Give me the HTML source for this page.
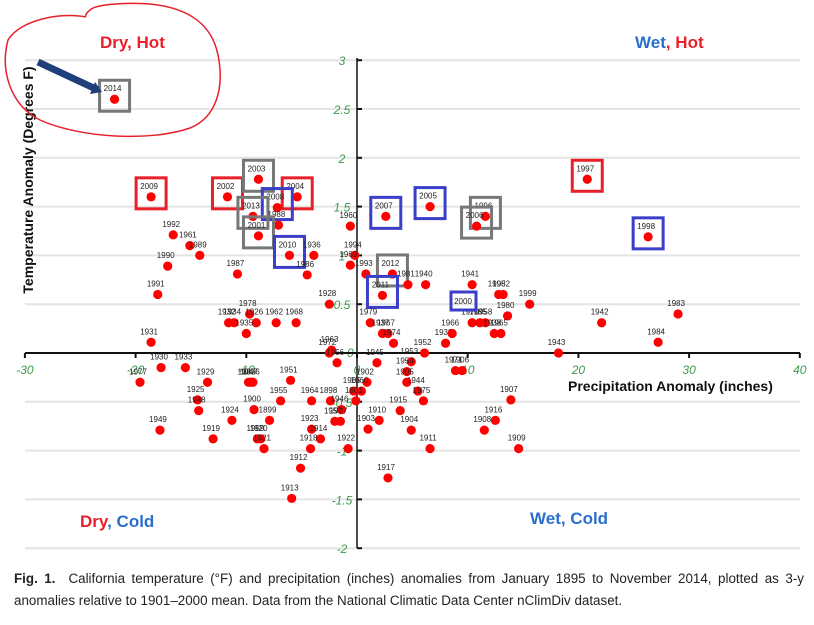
<!DOCTYPE html>
<html><head><meta charset="utf-8"><style>
body{margin:0;background:#fff;width:814px;height:625px;overflow:hidden;font-family:"Liberation Sans",sans-serif}
.cap{position:absolute;left:14px;width:790px;font-size:13.4px;line-height:22px;color:#222;text-align:justify}
</style></head><body>
<svg id="chart" width="814" height="570" style="position:absolute;left:0;top:0" font-family="Liberation Sans, sans-serif"></svg>
<div class="cap" style="top:568px"><b>Fig. 1.</b>&nbsp; California temperature (°F) and precipitation (inches) anomalies from January 1895 to November 2014, plotted as 3-y anomalies relative to 1901–2000 mean. Data from the National Climatic Data Center nClimDiv dataset.</div>
<script>
const years=[2014,2009,2002,2003,2004,2008,2013,1988,2001,1992,1961,1989,2010,1936,1990,1987,1986,1991,1928,1978,1932,1934,1926,1962,1968,1935,1931,1963,1972,1960,1994,1969,1993,2012,1981,1940,1941,2011,1995,1982,1999,1980,1970,1985,1958,1938,1965,1979,1937,1967,1974,1939,1966,1952,1943,1942,1983,1984,1997,1998,2007,2005,1996,2006,1953,1945,1954,1956,1971,1906,1930,1933,1977,1929,1966,1947,1976,1951,1902,1905,1964,1898,1955,1925,1948,1900,1965,1960,1944,1975,1915,1946,1924,1899,1957,1927,1910,1923,1903,1904,1949,1919,1959,1920,1914,1921,1918,1922,1911,1912,1917,1913,1907,1916,1908,1909,1901];
const precip=[-21.9,-18.6,-11.7,-8.9,-5.4,-7.2,-9.4,-7.1,-8.9,-16.6,-15.1,-14.2,-6.1,-3.9,-17.1,-10.8,-4.5,-18.0,-2.5,-9.7,-11.6,-11.1,-9.1,-7.3,-5.5,-10.0,-18.6,-2.3,-2.5,-0.6,-0.2,-0.6,0.8,3.2,4.6,6.2,10.4,2.3,12.8,13.2,15.6,13.6,10.4,11.1,11.6,12.4,13.0,1.2,2.3,2.8,3.3,8.0,8.6,6.1,18.2,22.1,29.0,27.2,20.8,26.3,2.6,6.6,11.6,10.8,4.9,1.8,4.5,-1.8,8.9,9.5,-17.7,-15.5,-19.6,-13.5,-9.8,-9.6,-9.4,-6.0,0.9,4.5,-4.1,-2.4,-6.9,-14.4,-14.3,-9.3,-0.3,0.4,5.5,6.0,3.9,-1.4,-11.3,-7.9,-2.0,-1.5,2.0,-4.1,1.0,4.9,-17.8,-13.0,-9.0,-8.7,-3.3,-8.4,-4.2,-0.8,6.6,-5.1,2.8,-5.9,13.9,12.5,11.5,14.6,-0.1];
const temp=[2.60,1.60,1.60,1.78,1.60,1.49,1.40,1.31,1.20,1.21,1.10,1.00,1.00,1.00,0.89,0.81,0.80,0.60,0.50,0.40,0.31,0.31,0.31,0.31,0.31,0.20,0.11,0.03,0.00,1.30,1.00,0.90,0.81,0.81,0.70,0.70,0.70,0.59,0.60,0.60,0.50,0.38,0.31,0.31,0.31,0.20,0.20,0.31,0.20,0.20,0.10,0.10,0.20,0.00,0.00,0.31,0.40,0.11,1.78,1.19,1.40,1.50,1.40,1.30,-0.09,-0.10,-0.19,-0.10,-0.18,-0.18,-0.15,-0.15,-0.30,-0.30,-0.30,-0.30,-0.30,-0.28,-0.30,-0.30,-0.49,-0.49,-0.49,-0.48,-0.59,-0.58,-0.39,-0.39,-0.39,-0.49,-0.59,-0.58,-0.69,-0.69,-0.70,-0.70,-0.69,-0.78,-0.78,-0.79,-0.79,-0.88,-0.88,-0.88,-0.88,-0.98,-0.98,-0.98,-0.98,-1.18,-1.28,-1.49,-0.48,-0.69,-0.79,-0.98,-0.49];
const boxed={2014:'#777',2009:'#e8202a',2002:'#e8202a',2003:'#777',2004:'#e8202a',2008:'#3a3ec8',2013:'#777',2001:'#777',2010:'#3a3ec8',2012:'#777',2011:'#3a3ec8',1997:'#e8202a',1998:'#3a3ec8',2007:'#3a3ec8',2005:'#3a3ec8',1996:'#777',2006:'#777'};
const xTicks=[-30,-20,-10,0,10,20,30,40];
const yTicks=[3,2.5,2,1.5,1,0.5,0,-0.5,-1,-1.5,-2];
const X=v=>357+v*11.07, Y=v=>353-v*97.6;
const svg=document.getElementById('chart');const NS='http://www.w3.org/2000/svg';
function mk(t,a,p){const e=document.createElementNS(NS,t);for(const k in a)e.setAttribute(k,a[k]);(p||svg).appendChild(e);return e;}
yTicks.forEach(t=>{const g=mk('line',{x1:25,x2:800,y1:Y(t),y2:Y(t),stroke:'#e4e4e4','stroke-width':2});


if(t===0)return;const l=mk('text',{x:342,y:Y(t)+5,'text-anchor':'middle','font-size':12,'font-style':'italic',fill:'#3d9a4a'});l.textContent=t;

});
const zl=mk('text',{x:347,y:357,'font-size':12,'font-style':'italic',fill:'#3d9a4a'});zl.textContent='0';


const xa=mk('line',{x1:25,x2:800,y1:353,y2:353,stroke:'#111','stroke-width':2});


const ya=mk('line',{x1:357,x2:357,y1:58,y2:548,stroke:'#111','stroke-width':1.5});


yTicks.forEach(t=>{const k=mk('line',{x1:357,x2:362,y1:Y(t),y2:Y(t),stroke:'#111','stroke-width':2});

});
xTicks.forEach(t=>{const k=mk('line',{x1:X(t),x2:X(t),y1:353,y2:358,stroke:'#111','stroke-width':2});


const l=mk('text',{x:X(t),y:374,'text-anchor':'middle','font-size':12,'font-style':'italic',fill:'#3d9a4a'});l.textContent=t;

});
years.forEach((yr,i)=>{const cx=X(precip[i]),cy=Y(temp[i]);
const c=mk('circle',{cx:cx,cy:cy,r:4.6,fill:'#f00'});


const l=mk('text',{x:cx-2,y:cy-8,'text-anchor':'middle','font-size':8,fill:'#222'});l.textContent=yr;


if(boxed[yr]){const b=mk('rect',{x:cx-15,y:cy-19,width:30,height:31,fill:'none',stroke:boxed[yr],'stroke-width':3});

}});
const b2=mk('rect',{x:451,y:292,width:25,height:18,fill:'none',stroke:'#3a3ec8','stroke-width':3});


const t2=mk('text',{x:463,y:304,'text-anchor':'middle','font-size':8,fill:'#222'});t2.textContent='2000';


</script>
<svg width="814" height="570" style="position:absolute;left:0;top:0" font-family="Liberation Sans, sans-serif">
<text x="33" y="180" transform="rotate(-90 33 180)" text-anchor="middle" font-size="14" font-weight="bold" fill="#111">Temperature Anomaly (Degrees F)</text>
<text x="568" y="391" font-size="14" font-weight="bold" fill="#111">Precipitation Anomaly (inches)</text>
<text x="100" y="48" font-size="17" font-weight="bold" fill="#e8202a">Dry, Hot</text>
<text x="635" y="48" font-size="17" font-weight="bold"><tspan fill="#2a6fcc">Wet</tspan><tspan fill="#e8202a">, Hot</tspan></text>
<text x="80" y="527" font-size="17" font-weight="bold"><tspan fill="#e8202a">Dry</tspan><tspan fill="#2a6fcc">, Cold</tspan></text>
<text x="530" y="524" font-size="17" font-weight="bold" fill="#2a6fcc">Wet, Cold</text>
<path d="M38,62 L98,90" stroke="#1f3f7a" stroke-width="7"/>
<path d="M95,82 L102,92 L90,94 Z" fill="#1f3f7a"/>
<path d="M86,17 C60,12 20,20 8,40 C0,70 10,105 40,120 C80,138 150,142 190,128 C215,118 225,90 218,55 C212,25 190,8 150,4 C120,2 95,5 90,10 C86,13 85,16 86,17" fill="none" stroke="#e8202a" stroke-width="1.5"/>
</svg>
</body></html>
